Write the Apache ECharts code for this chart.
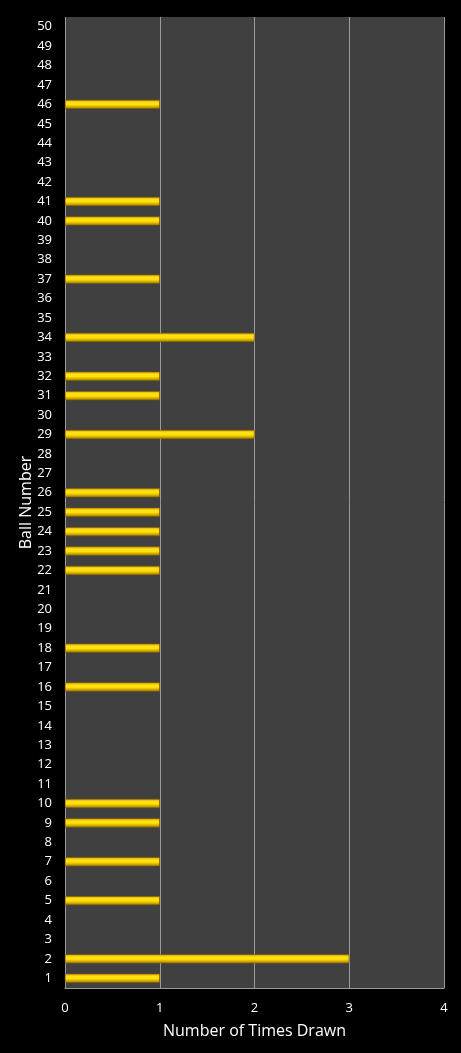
<!DOCTYPE html>
<html>
<head>
<meta charset="utf-8">
<style>
  html, body { margin: 0; padding: 0; background: #000; }
  #chart { width: 461px; height: 1053px; }
</style>
<script src="https://cdn.jsdelivr.net/npm/echarts@6/dist/echarts.min.js"></script>
</head>
<body>
<div id="chart"></div>
<script>
// ball numbers 1..50 (bottom to top)
var balls = [];
for (var b = 1; b <= 50; b++) balls.push(String(b));

// times each ball was drawn (only the ones that show a bar)
var drawnBalls = [1, 2, 5, 7, 9, 10, 16, 18, 22, 23, 24, 25, 26, 29, 31, 32, 34, 37, 40, 41, 46];
var drawnTimes = [1, 3, 1, 1, 1, 1, 1, 1, 1, 1, 1, 1, 1, 2, 1, 1, 2, 1, 1, 1, 1];

var xTicks = [0, 1, 2, 3, 4];

var values = balls.map(function (b) {
    var k = drawnBalls.indexOf(+b);
    return k >= 0 ? drawnTimes[k] : null;
});

var myChart = echarts.init(document.getElementById('chart'));

var font = '"Open Sans", "DejaVu Sans", sans-serif';

var barColor = new echarts.graphic.LinearGradient(0, 0, 0, 1, [
    { offset: 0, color: '#e0a800' },
    { offset: 0.3, color: '#ffe21a' },
    { offset: 0.55, color: '#ffe000' },
    { offset: 1, color: '#a07800' }
]);

var option = {
    backgroundColor: '#000',
    animation: false,
    grid: {
        left: 65,
        right: 17,
        top: 17,
        bottom: 65,
        show: true,
        backgroundColor: '#404040',
        borderWidth: 0
    },
    xAxis: {
        type: 'value',
        min: xTicks[0],
        max: xTicks[xTicks.length - 1],
        interval: 1,
        name: 'Number of Times Drawn',
        nameLocation: 'middle',
        nameGap: 35,
        nameMoveOverlap: false,
        nameTextStyle: { color: '#fff', fontSize: 16, fontFamily: font },
        axisLine: { show: true, lineStyle: { color: '#9a9a9a', width: 1 } },
        axisTick: { show: false },
        axisLabel: { color: '#fff', fontSize: 13, fontFamily: font, margin: 14 },
        splitLine: { show: true, lineStyle: { color: '#9a9a9a', width: 1 } }
    },
    yAxis: {
        type: 'category',
        data: balls,
        name: 'Ball Number',
        nameLocation: 'middle',
        nameGap: 31,
        nameMoveOverlap: false,
        nameTextStyle: { color: '#fff', fontSize: 16, fontFamily: font },
        axisLine: { show: false },
        axisTick: { show: false },
        axisLabel: { color: '#fff', fontSize: 13, fontFamily: font, margin: 13 },
        splitLine: { show: false }
    },
    series: [{
        type: 'bar',
        data: values,
        barWidth: 9,
        itemStyle: {
            color: barColor,
            borderColor: '#8a6000',
            borderWidth: 0.6
        }
    }]
};

myChart.setOption(option);
</script>
</body>
</html>
